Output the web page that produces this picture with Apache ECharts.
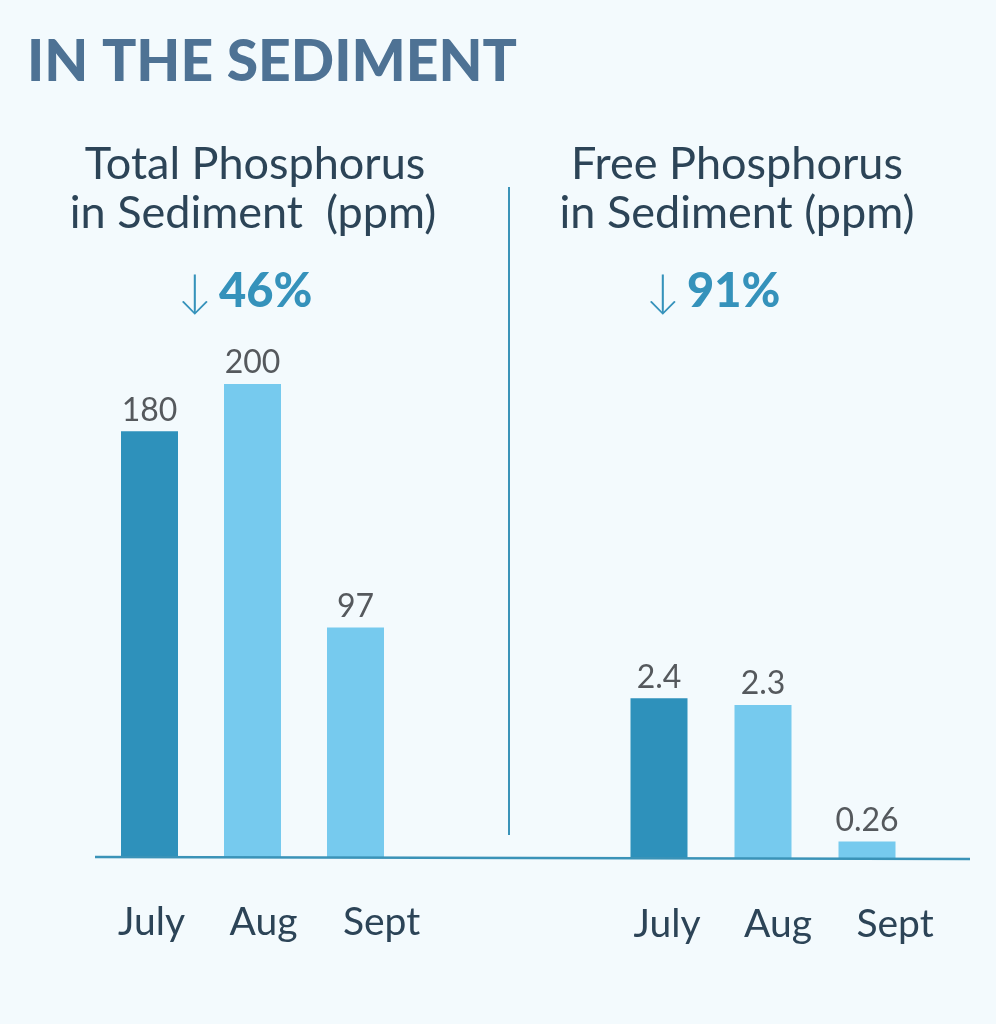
<!DOCTYPE html>
<html>
<head>
<meta charset="utf-8">
<script src="https://cdn.jsdelivr.net/npm/echarts@6/dist/echarts.min.js"></script>
<style>
html,body{margin:0;padding:0;background:#f3fafd;}
#c{width:996px;height:1024px;}
</style>
</head>
<body>
<div id="c"></div>
<script>
const categories = ['July', 'Aug', 'Sept'];
const totalPhosphorus = [180, 200, 97];
const freePhosphorus = [2.4, 2.3, 0.26];
const totalLabels = ['180', '200', '97'];
const freeLabels = ['2.4', '2.3', '0.26'];
const mainTitle = 'IN THE SEDIMENT';
const leftTitle = ['Total Phosphorus', 'in Sediment  (ppm)'];
const rightTitle = ['Free Phosphorus', 'in Sediment (ppm)'];
const leftChange = '46%';
const rightChange = '91%';

const DARK = '#2e91bb';
const LIGHT = '#76caee';
const TEXT = '#2c4457';
const FONT = 'Lato, "Noto Sans", sans-serif';

function barData(vals, labels) {
  return vals.map((v, i) => ({
    value: v,
    itemStyle: { color: i === 0 ? DARK : LIGHT },
    label: { formatter: labels[i] }
  }));
}

function xAxisFor(gridIndex, shifts) {
  const rich = {};
  shifts.forEach((s, i) => {
    rich['p' + i] = { color: TEXT, fontSize: 39, fontFamily: FONT, padding: [0, 0, 0, 2 * s] };
  });
  return {
    gridIndex: gridIndex,
    type: 'category',
    data: categories,
    axisLine: { show: false },
    axisTick: { show: false },
    axisLabel: {
      margin: 46,
      formatter: (v, i) => '{p' + i + '|' + v + '}',
      rich: rich
    }
  };
}
const yAxisCommon = {
  type: 'value', min: 0,
  axisLine: { show: false }, axisTick: { show: false },
  axisLabel: { show: false }, splitLine: { show: false }
};
const labelCommon = {
  show: true, position: 'top', distance: 5,
  color: '#55595d', fontSize: 32, fontFamily: FONT
};

const chart = echarts.init(document.getElementById('c'));
chart.setOption({
  backgroundColor: '#f3fafd',
  animation: false,
  grid: [
    { left: 98, width: 309, top: 384, bottom: 167 },
    { left: 607, width: 312, top: 658, bottom: 165 }
  ],
  xAxis: [ xAxisFor(0, [2, 11, 26]), xAxisFor(1, [8, 15, 28]) ],
  yAxis: [
    Object.assign({ gridIndex: 0, max: 200 }, yAxisCommon),
    Object.assign({ gridIndex: 1, max: 3 }, yAxisCommon)
  ],
  series: [
    { type: 'bar', xAxisIndex: 0, yAxisIndex: 0, barWidth: 57,
      data: barData(totalPhosphorus, totalLabels), label: labelCommon },
    { type: 'bar', xAxisIndex: 1, yAxisIndex: 1, barWidth: 57,
      data: barData(freePhosphorus, freeLabels), label: labelCommon }
  ],
  graphic: [
    { type: 'line', z: 10, shape: { x1: 95, y1: 857, x2: 970, y2: 859 },
      style: { stroke: '#3a93b8', lineWidth: 2.5 } },
    { type: 'line', z: 10, shape: { x1: 509, y1: 187, x2: 509, y2: 835 },
      style: { stroke: '#3a93b8', lineWidth: 2 } },
    { type: 'text', x: 27, y: 63, style: { text: mainTitle, fill: '#4e7294',
      font: '900 57px ' + FONT, textAlign: 'left', verticalAlign: 'middle' } },
    { type: 'text', x: 255, y: 164, style: { text: leftTitle[0], fill: TEXT,
      font: '400 45px ' + FONT, textAlign: 'center', verticalAlign: 'middle' } },
    { type: 'text', x: 253, y: 213, style: { text: leftTitle[1], fill: TEXT,
      font: '400 45px ' + FONT, textAlign: 'center', verticalAlign: 'middle' } },
    { type: 'text', x: 737, y: 164, style: { text: rightTitle[0], fill: TEXT,
      font: '400 45px ' + FONT, textAlign: 'center', verticalAlign: 'middle' } },
    { type: 'text', x: 737, y: 213, style: { text: rightTitle[1], fill: TEXT,
      font: '400 45px ' + FONT, textAlign: 'center', verticalAlign: 'middle' } },
    { type: 'text', x: 245, y: 292, style: { text: '{a|↓}  {b|' + leftChange + '}',
      textAlign: 'center', verticalAlign: 'middle',
      rich: { a: { fill: '#3592bb', fontSize: 46, fontFamily: FONT, fontWeight: 300 },
              b: { fill: '#3592bb', fontSize: 47, fontFamily: FONT, fontWeight: 900 } } } },
    { type: 'text', x: 713, y: 292, style: { text: '{a|↓}  {b|' + rightChange + '}',
      textAlign: 'center', verticalAlign: 'middle',
      rich: { a: { fill: '#3592bb', fontSize: 46, fontFamily: FONT, fontWeight: 300 },
              b: { fill: '#3592bb', fontSize: 47, fontFamily: FONT, fontWeight: 900 } } } }
  ]
});
</script>
</body>
</html>
